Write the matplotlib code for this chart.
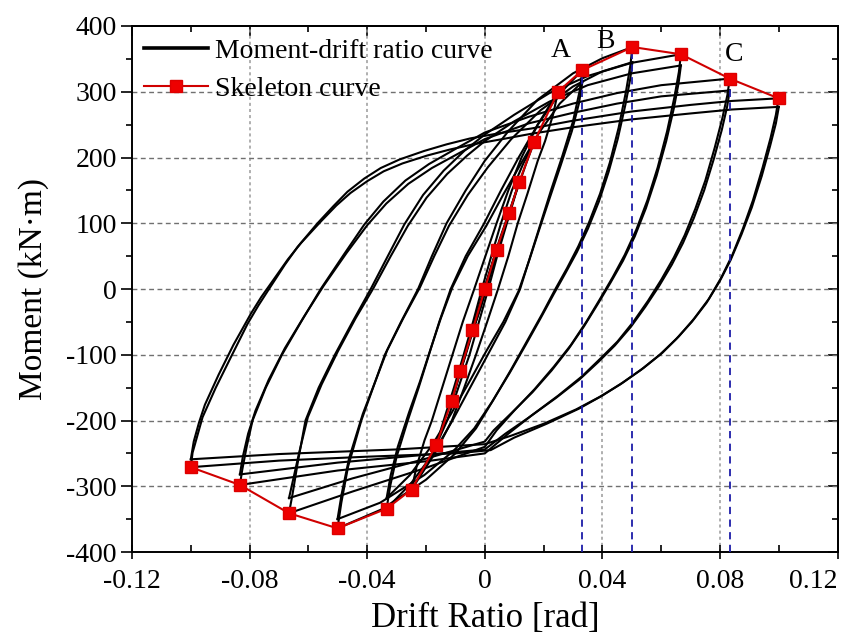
import matplotlib
matplotlib.use("Agg")
import matplotlib.pyplot as plt
from matplotlib.lines import Line2D
from matplotlib.ticker import FixedLocator, MultipleLocator

plt.rcParams['font.family'] = ['Liberation Serif', 'DejaVu Serif']

# ---------------- data ----------------
x_ticks = [-0.12, -0.08, -0.04, 0.0, 0.04, 0.08, 0.12]
x_tick_labels = ["-0.12", "-0.08", "-0.04", "0", "0.04", "0.08", "0.12"]
y_ticks = [-400, -300, -200, -100, 0, 100, 200, 300, 400]
y_tick_labels = ["-400", "-300", "-200", "-100", "0", "100", "200", "300", "400"]

# skeleton curve
skel_x = [-0.1000, -0.0833, -0.0666, -0.0501, -0.0334, -0.0249, -0.0165, -0.0113, -0.0084, -0.0042,
          0.0000, 0.0040, 0.0083, 0.0117, 0.0168, 0.0249, 0.0332, 0.0502, 0.0667, 0.0833, 0.0999]
skel_y = [-271, -298, -341, -364, -334, -305, -237, -171, -125, -63,
          0, 60, 116, 163, 224, 300, 333, 368, 357, 320, 290]

# characteristic points A, B, C
pt_names = ["A", "B", "C"]
pt_x = [0.0332, 0.0502, 0.0833]
pt_y = [333, 368, 320]
lbl_x = [0.0259, 0.0412, 0.0847]
lbl_y = [362, 377, 357]

# hysteresis branches (drift, moment)
h10a_up = [(-0.1000, -271), (-0.0994, -249), (-0.0977, -222), (-0.0960, -195), (-0.0915, -150), (-0.0864, -104),
           (-0.0807, -53), (-0.0770, -25), (-0.0734, 0), (-0.0680, 37), (-0.0637, 64), (-0.0569, 100),
           (-0.0515, 126), (-0.0467, 148), (-0.0410, 168), (-0.0354, 184), (-0.0290, 197), (-0.0206, 210),
           (-0.0130, 220), (-0.0050, 229), (0.0050, 237), (0.0157, 244), (0.0300, 256),
           (0.0500, 270), (0.0700, 280), (0.0840, 286), (0.0999, 290)]
h10a_dn = [(0.0999, 290), (0.0990, 265), (0.0972, 230), (0.0945, 185), (0.0912, 135), (0.0878, 92),
           (0.0842, 52), (0.0805, 18), (0.0762, -15), (0.0712, -45), (0.0660, -72), (0.0604, -97),
           (0.0540, -120), (0.0470, -142), (0.0400, -162), (0.0320, -182), (0.0210, -205), (0.0100, -226),
           (0.0020, -245), (-0.0100, -250), (-0.0400, -255), (-0.0700, -261), (-0.1000, -271)]
h10b_up = [(-0.1000, -259), (-0.0990, -232), (-0.0972, -203), (-0.0952, -176), (-0.0905, -130), (-0.0855, -85),
           (-0.0795, -37), (-0.0760, -12), (-0.0722, 12), (-0.0670, 45), (-0.0625, 70), (-0.0557, 103),
           (-0.0505, 127), (-0.0457, 146), (-0.0400, 164), (-0.0344, 179), (-0.0280, 191), (-0.0196, 203),
           (-0.0120, 212), (-0.0040, 220), (0.0060, 228), (0.0157, 236), (0.0300, 246),
           (0.0500, 258), (0.0700, 267), (0.0840, 273), (0.1000, 277)]
h10b_dn = [(0.1000, 277), (0.0990, 252), (0.0970, 217), (0.0942, 172), (0.0908, 124), (0.0873, 83),
           (0.0836, 44), (0.0798, 11), (0.0754, -21), (0.0704, -50), (0.0651, -76), (0.0595, -100),
           (0.0531, -123), (0.0461, -145), (0.0391, -164), (0.0311, -183), (0.0200, -205), (0.0090, -223),
           (0.0000, -236), (-0.0300, -244), (-0.0700, -251), (-0.1000, -259)]

h9a_up = [(-0.0833, -298), (-0.0825, -275), (-0.0810, -240), (-0.0790, -200), (-0.0745, -150), (-0.0690, -100),
          (-0.0625, -50), (-0.0558, 0), (-0.0480, 52), (-0.0410, 98), (-0.0345, 133), (-0.0270, 165),
          (-0.0190, 190), (-0.0100, 213), (0.0000, 238), (0.0150, 262), (0.0300, 282), (0.0450, 298),
          (0.0600, 310), (0.0833, 320)]
h9a_dn = [(0.0833, 320), (0.0825, 295), (0.0808, 260), (0.0782, 215), (0.0750, 165), (0.0716, 122),
          (0.0680, 82), (0.0643, 48), (0.0600, 14), (0.0555, -18), (0.0505, -50), (0.0451, -80),
          (0.0395, -105), (0.0330, -133), (0.0250, -162), (0.0160, -192), (0.0080, -220), (0.0000, -250),
          (-0.0200, -262), (-0.0500, -276), (-0.0833, -298)]
h9b_up = [(-0.0833, -282), (-0.0823, -255), (-0.0805, -220), (-0.0780, -185), (-0.0735, -138), (-0.0680, -90),
          (-0.0615, -42), (-0.0548, 5), (-0.0470, 55), (-0.0400, 97), (-0.0335, 130), (-0.0260, 160),
          (-0.0180, 184), (-0.0090, 206), (0.0000, 228), (0.0150, 252), (0.0300, 268), (0.0450, 282),
          (0.0600, 293), (0.0833, 302)]
h9b_dn = [(0.0833, 302), (0.0824, 277), (0.0806, 242), (0.0779, 198), (0.0746, 150), (0.0711, 108),
          (0.0674, 70), (0.0636, 37), (0.0592, 4), (0.0546, -27), (0.0496, -58), (0.0442, -86),
          (0.0386, -111), (0.0321, -138), (0.0241, -166), (0.0151, -195), (0.0070, -220), (0.0000, -244),
          (-0.0200, -252), (-0.0500, -264), (-0.0833, -282)]

h8a_up = [(-0.0666, -341), (-0.0654, -312), (-0.0637, -266), (-0.0610, -200), (-0.0565, -150), (-0.0510, -100),
          (-0.0450, -50), (-0.0388, 0), (-0.0330, 50), (-0.0274, 98), (-0.0210, 143), (-0.0140, 180),
          (-0.0070, 210), (0.0000, 235), (0.0100, 265), (0.0220, 298), (0.0350, 324), (0.0500, 344),
          (0.0667, 357)]
h8a_dn = [(0.0667, 357), (0.0660, 330), (0.0645, 292), (0.0620, 240), (0.0588, 185), (0.0553, 135),
          (0.0515, 90), (0.0476, 52), (0.0435, 18), (0.0392, -15), (0.0345, -50), (0.0293, -85),
          (0.0235, -118), (0.0170, -152), (0.0100, -185), (0.0040, -215), (0.0000, -240), (-0.0200, -272),
          (-0.0450, -308), (-0.0666, -341)]
h8b_up = [(-0.0666, -318), (-0.0652, -290), (-0.0632, -250), (-0.0602, -195), (-0.0555, -145), (-0.0500, -95),
          (-0.0440, -45), (-0.0378, 2), (-0.0320, 50), (-0.0262, 96), (-0.0198, 139), (-0.0128, 175),
          (-0.0060, 203), (0.0000, 225), (0.0100, 255), (0.0220, 285), (0.0350, 310), (0.0500, 328),
          (0.0667, 340)]
h8b_dn = [(0.0667, 340), (0.0659, 313), (0.0643, 275), (0.0617, 225), (0.0584, 172), (0.0548, 123),
          (0.0510, 80), (0.0470, 43), (0.0428, 10), (0.0384, -23), (0.0337, -57), (0.0285, -91),
          (0.0227, -124), (0.0162, -157), (0.0092, -188), (0.0030, -215), (0.0000, -232), (-0.0200, -258),
          (-0.0450, -288), (-0.0666, -318)]

h7a_up = [(-0.0501, -364), (-0.0488, -325), (-0.0465, -270), (-0.0420, -200), (-0.0380, -150), (-0.0340, -100),
          (-0.0285, -50), (-0.0227, 0), (-0.0180, 50), (-0.0130, 100), (-0.0065, 150), (0.0000, 195),
          (0.0080, 240), (0.0180, 288), (0.0300, 328), (0.0400, 351), (0.0502, 368)]
h7a_dn = [(0.0502, 368), (0.0495, 340), (0.0480, 300), (0.0455, 245), (0.0425, 192), (0.0392, 145),
          (0.0355, 102), (0.0318, 65), (0.0280, 32), (0.0240, 0), (0.0195, -38), (0.0145, -78),
          (0.0090, -122), (0.0030, -168), (-0.0030, -212), (-0.0100, -250), (-0.0200, -290), (-0.0350, -335),
          (-0.0501, -364)]
h7b_up = [(-0.0501, -350), (-0.0487, -312), (-0.0462, -258), (-0.0415, -190), (-0.0372, -140), (-0.0332, -93),
          (-0.0278, -45), (-0.0220, 3), (-0.0172, 50), (-0.0122, 96), (-0.0058, 143), (0.0010, 185),
          (0.0090, 228), (0.0190, 272), (0.0300, 308), (0.0400, 331), (0.0502, 345)]
h7b_dn = [(0.0502, 345), (0.0494, 318), (0.0478, 280), (0.0452, 228), (0.0421, 178), (0.0388, 133),
          (0.0351, 92), (0.0313, 56), (0.0274, 24), (0.0234, -8), (0.0189, -45), (0.0139, -85),
          (0.0084, -128), (0.0024, -172), (-0.0036, -212), (-0.0106, -246), (-0.0206, -283), (-0.0356, -325),
          (-0.0501, -350)]

h6a_up = [(-0.0334, -334), (-0.0322, -300), (-0.0300, -255), (-0.0262, -200), (-0.0225, -150), (-0.0190, -100),
          (-0.0155, -50), (-0.0116, 0), (-0.0065, 50), (-0.0002, 100), (0.0055, 150), (0.0115, 200),
          (0.0180, 250), (0.0250, 295), (0.0332, 333)]
h6a_dn = [(0.0332, 333), (0.0322, 300), (0.0300, 255), (0.0262, 200), (0.0225, 150), (0.0190, 100),
          (0.0155, 50), (0.0120, 0), (0.0070, -50), (0.0010, -100), (-0.0050, -150), (-0.0110, -200),
          (-0.0175, -250), (-0.0250, -295), (-0.0334, -334)]
h6b_up = [(-0.0334, -318), (-0.0320, -283), (-0.0296, -240), (-0.0258, -188), (-0.0220, -140), (-0.0185, -92),
          (-0.0150, -45), (-0.0110, 3), (-0.0058, 50), (0.0005, 96), (0.0062, 143), (0.0122, 190),
          (0.0185, 238), (0.0255, 282), (0.0332, 315)]
h6b_dn = [(0.0332, 315), (0.0320, 282), (0.0296, 240), (0.0258, 188), (0.0222, 140), (0.0187, 93),
          (0.0152, 45), (0.0115, -3), (0.0063, -50), (0.0003, -96), (-0.0055, -143), (-0.0115, -190),
          (-0.0180, -238), (-0.0255, -283), (-0.0334, -318)]

h5_up = [(-0.0249, -305), (-0.0232, -270), (-0.0205, -230), (-0.0180, -200), (-0.0145, -150), (-0.0110, -100),
         (-0.0075, -50), (-0.0036, 0), (0.0002, 50), (0.0040, 100), (0.0080, 150), (0.0125, 200),
         (0.0180, 250), (0.0249, 300)]
h5_dn = [(0.0249, 300), (0.0232, 265), (0.0205, 225), (0.0180, 195), (0.0145, 145), (0.0112, 100),
         (0.0080, 50), (0.0045, 0), (0.0008, -50), (-0.0030, -100), (-0.0070, -150), (-0.0112, -200),
         (-0.0170, -250), (-0.0249, -305)]

h4_up = [(-0.0165, -237), (-0.0140, -200), (-0.0105, -150), (-0.0072, -100), (-0.0040, -50), (-0.0010, 0),
         (0.0022, 50), (0.0055, 100), (0.0092, 150), (0.0130, 190), (0.0168, 224)]
h4_dn = [(0.0168, 224), (0.0140, 190), (0.0105, 145), (0.0075, 100), (0.0042, 50), (0.0012, 0),
         (-0.0020, -50), (-0.0052, -100), (-0.0090, -150), (-0.0128, -200), (-0.0165, -237)]

h3_up = [(-0.0113, -171), (-0.0085, -128), (-0.0052, -78), (-0.0020, -28), (0.0015, 25), (0.0050, 75),
         (0.0085, 120), (0.0117, 163)]
h3_dn = [(0.0117, 163), (0.0088, 122), (0.0055, 75), (0.0022, 28), (-0.0013, -25), (-0.0048, -75),
         (-0.0082, -125), (-0.0113, -171)]

h2_up = [(-0.0084, -125), (-0.0050, -72), (-0.0015, -20), (0.0020, 30), (0.0050, 72), (0.0083, 116)]
h2_dn = [(0.0083, 116), (0.0052, 70), (0.0018, 20), (-0.0015, -30), (-0.0050, -75), (-0.0084, -125)]

h1_up = [(-0.0042, -63), (-0.0010, -15), (0.0010, 15), (0.0040, 60)]
h1_dn = [(0.0040, 60), (0.0012, 15), (-0.0008, -15), (-0.0042, -63)]

branches = [h10a_up, h10a_dn, h10b_up, h10b_dn, h9a_up, h9a_dn, h9b_up, h9b_dn,
            h8a_up, h8a_dn, h8b_up, h8b_dn, h7a_up, h7a_dn, h7b_up, h7b_dn,
            h6a_up, h6a_dn, h6b_up, h6b_dn, h5_up, h5_dn, h4_up, h4_dn,
            h3_up, h3_dn, h2_up, h2_dn, h1_up, h1_dn]

# ---------------- figure ----------------
fig = plt.figure(figsize=(8.51, 6.34), dpi=100)
ax = fig.add_axes([0.1551, 0.1293, 0.8292, 0.8297])

ax.set_xlim(-0.12, 0.12)
ax.set_ylim(-400, 400)

# grid
for xv in x_ticks[1:-1]:
    ax.axvline(xv, color='#9a9a9a', lw=1.1, ls=(0, (2, 2)), zorder=0.5)
for yv in y_ticks[1:-1]:
    ax.axhline(yv, color='#707070', lw=1.0, ls=(0, (3.5, 2.5)), zorder=0.5)

for br in branches:
    xs = [p[0] for p in br]
    ys = [p[1] for p in br]
    ax.plot(xs, ys, color='black', lw=1.5, solid_joinstyle='round', zorder=2)

# characteristic point markers (blue dashed verticals)
for px, py in zip(pt_x, pt_y):
    ax.plot([px, px], [-400, py], color='#1c1ca8', lw=1.3, ls=(0, (4, 3)), zorder=3)

ax.plot(skel_x, skel_y, color='#d00000', lw=1.5, marker='s', markersize=8,
        markerfacecolor='#ee0000', markeredgecolor='#dd0000', zorder=4)

for name, lx, ly in zip(pt_names, lbl_x, lbl_y):
    ax.text(lx, ly, name, fontsize=20, ha='center', va='center', zorder=5)

# ticks
ax.xaxis.set_major_locator(FixedLocator(x_ticks))
ax.set_xticklabels(x_tick_labels)
ax.yaxis.set_major_locator(FixedLocator(y_ticks))
ax.set_yticklabels(y_tick_labels)
ax.xaxis.set_minor_locator(MultipleLocator(0.02))
ax.yaxis.set_minor_locator(MultipleLocator(50))

ax.tick_params(axis='both', which='major', labelsize=20, width=1.2, color='black')
ax.tick_params(axis='y', which='major', direction='out', length=8, left=True, right=False, pad=3)
ax.tick_params(axis='y', which='minor', direction='out', length=4, width=1.2, left=True, right=False)
ax.tick_params(axis='x', which='major', direction='inout', length=10, bottom=True, top=False, pad=7)
ax.tick_params(axis='x', which='minor', direction='in', length=5, width=1.2, bottom=True, top=False)
xlabels = ax.get_xticklabels()
xlabels[-1].set_horizontalalignment('right')

# mirrored top/right ticks
secx = ax.secondary_xaxis('top')
secx.xaxis.set_major_locator(FixedLocator(x_ticks))
secx.xaxis.set_minor_locator(MultipleLocator(0.02))
secx.tick_params(which='major', direction='in', length=7, width=1.2, labeltop=False)
secx.tick_params(which='minor', direction='in', length=4, width=1.2)
secx.spines['top'].set_linewidth(1.4)
secy = ax.secondary_yaxis('right')
secy.yaxis.set_major_locator(FixedLocator(y_ticks))
secy.yaxis.set_minor_locator(MultipleLocator(50))
secy.tick_params(which='major', direction='in', length=7, width=1.2, labelright=False)
secy.tick_params(which='minor', direction='in', length=4, width=1.2)
secy.spines['right'].set_linewidth(1.4)

for sp in ax.spines.values():
    sp.set_linewidth(1.4)

ax.set_xlabel('Drift Ratio [rad]', fontsize=25, labelpad=6)
ax.set_ylabel('Moment (kN·m)', fontsize=24, labelpad=12)

# legend
handles = [Line2D([], [], color='black', lw=2.6),
           Line2D([], [], color='#d00000', lw=1.5, marker='s', markersize=8,
                  markerfacecolor='#ee0000', markeredgecolor='#dd0000')]
ax.legend(handles, ['Moment-drift ratio curve', 'Skeleton curve'], loc='upper left',
          bbox_to_anchor=(0.0, 1.0), frameon=False, fontsize=20, handlelength=2.3,
          handletextpad=0.25, borderaxespad=0.15, borderpad=0.3, labelspacing=0.45)

fig.savefig('out.png', dpi=100)
